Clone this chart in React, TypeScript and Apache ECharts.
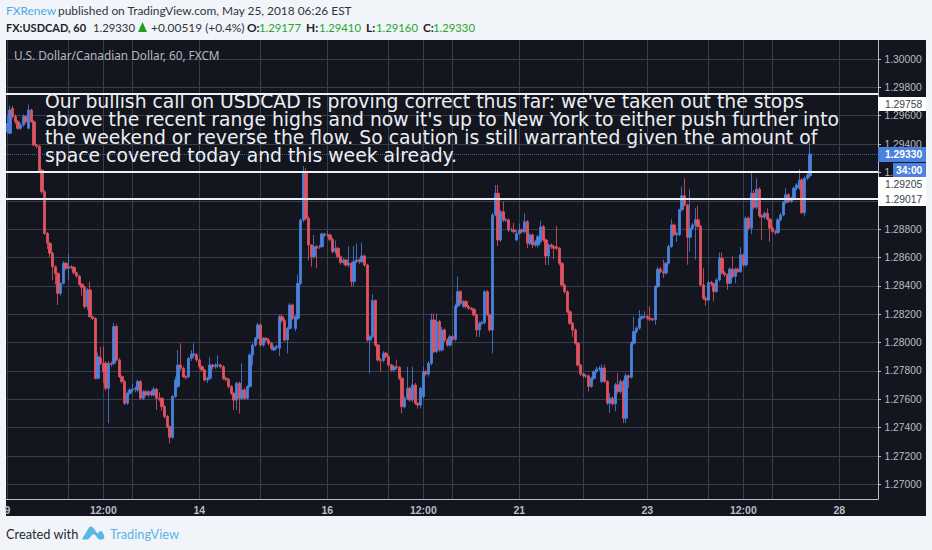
import React, { useEffect, useRef } from "react";
import * as echarts from "echarts";

// Each row: open, close, low, high (in 1e-5 of a price unit)
const legMay9 = [
[129488,129546,129470,129600],[129476,129640,129470,129670],[129652,129594,129580,129670],[129594,129558,129540,129610],
[129558,129511,129500,129570],[129511,129535,129500,129550],[129535,129594,129520,129610],[129594,129558,129545,129605],
[129511,129640,129505,129680],[129640,129558,129550,129650],[129558,129394,129385,129570],[129394,129385,129370,129400],
[129385,129206,129195,129395],[129217,129064,129050,129225],[129064,128770,128760,129075],[128770,128700,128660,128780],
[128700,128630,128600,128710],[128630,128535,128440,128640],[128535,128488,128410,128545],[128488,128348,128265,128495],
[128348,128418,128330,128425],[128418,128559,128410,128575],[128559,128524,128510,128570],[128524,128535,128440,128625],
[128535,128530,128515,128545],[128530,128493,128480,128540],[128493,128470,128455,128500],[128470,128411,128400,128480],
[128411,128390,128330,128420],[128390,128253,128240,128400],[128253,128371,128230,128385],[128371,128183,128175,128430],
[128183,128170,128160,128190],[128170,127748,127740,128180],[127748,127901,127740,127930],[127889,127854,127840,127970],
[127854,127795,127713,127970],[127854,127678,127660,127870],[127678,127854,127431,127870],[127854,127848,127830,127865],
[127854,128113,127840,128141],[128113,127878,127870,128130],[127878,127760,127750,127890],[127760,127725,127710,127770],
[127725,127572,127560,127735],[127572,127643,127560,127655],[127643,127666,127630,127680],[127666,127672,127650,127710],
[127672,127676,127650,127690],[127666,127725,127650,127740],[127725,127607,127595,127735],[127607,127654,127595,127665],
[127654,127631,127620,127665],[127631,127654,127615,127665],[127654,127631,127620,127665],[127631,127671,127620,127690],
[127671,127607,127525,127680],[127607,127600,127585,127650],[127607,127548,127520,127615],[127548,127478,127465,127560],
[127478,127407,127395,127490],[127407,127332,127290,127415],[127332,127619,127320,127630],[127619,127736,127610,127760],
[127690,127842,127680,127948],[127842,127819,127805,127995],[127819,127760,127750,127830],[127760,127755,127740,127770],
[127760,127889,127750,127900],[127889,127920,127870,127948],[127913,127920,127890,127995],[127913,127878,127865,127925],
[127878,127830,127815,127890],[127830,127807,127795,127840],[127807,127736,127725,127815],[127736,127748,127715,127760],
[127748,127842,127735,127900],[127842,127830,127810,127850],[127830,127842,127815,127855],[127842,127842,127820,127910],
[127842,127830,127815,127850],[127830,127748,127735,127840],[127748,127741,127725,127760],[127741,127690,127675,127750],
[127690,127642,127630,127700],[127642,127595,127525,127650],[127595,127713,127525,127725],[127713,127607,127500,127725],
[127607,127666,127595,127854],[127666,127607,127595,127680],[127607,127690,127595,127700],[127690,127913,127680,127925],
[127913,127983,127840,127995],[127983,128030,127970,128040],[128030,128124,128020,128140],[128124,127983,127970,128135],
[127983,128030,127970,128040],[128030,128018,128005,128040],[128018,127995,127980,128030],[127995,127960,127945,128005],
[127948,127967,127940,127980],[127967,127972,127950,127985],[127960,128183,127905,128195],[128183,128155,128140,128200],
[128155,128018,128005,128170],[128018,128100,127925,128110],[128100,128265,128090,128280],[128265,128171,128160,128275],
[128100,128183,128080,128195],[128171,128418,128160,128480],[128418,128864,128405,128875],
];
const legMay14 = [
[128864,129194,128850,129245],[129194,128876,128860,129230],[128876,128688,128580,128890],[128688,128606,128535,128695],
[128606,128676,128590,128759],[128676,128665,128525,128690],[128676,128676,128660,128690],[128676,128766,128665,128775],
[128766,128759,128745,128775],[128759,128759,128745,128790],[128759,128728,128715,128770],[128728,128641,128630,128740],
[128641,128665,128625,128720],[128665,128606,128595,128675],[128606,128564,128550,128615],[128564,128583,128550,128595],
[128583,128547,128535,128590],[128547,128559,128530,128680],[128559,128430,128395,128570],[128430,128571,128395,128680],
[128571,128583,128560,128700],[128583,128571,128555,128595],[128571,128611,128560,128705],[128611,128547,128535,128620],
[128547,128018,128005,128555],[128018,128042,127784,128055],[128042,128296,128030,128340],[128296,127983,127970,128305],
[127983,127878,127865,127990],[127878,127873,127795,127890],[127873,127925,127860,127940],[127925,127901,127890,127935],
[127901,127842,127830,127910],[127842,127807,127795,127850],[127807,127830,127795,127845],[127830,127826,127810,127880],
[127826,127748,127735,127835],[127748,127548,127501,127760],[127548,127607,127535,127620],[127607,127678,127595,127830],
[127678,127595,127585,127690],[127595,127701,127580,127830],[127701,127572,127560,127715],[127572,127560,127535,127580],
[127560,127678,127535,127690],[127619,127795,127605,127830],[127795,127779,127765,127805],[127779,127854,127760,127870],
[127854,128160,127840,128205],[128160,127936,127925,128205],[127936,128148,127925,128205],[128148,127948,127935,128160],
[127948,128089,127935,128110],[128089,128018,128005,128100],[128018,127983,127970,128030],[127983,128042,127970,128055],
[128042,128023,128010,128055],[128023,128258,128010,128275],[128258,128359,128245,128465],[128359,128277,128265,128370],
[128254,128289,128245,128300],[128289,128254,128240,128300],[128254,128242,128230,128265],[128242,128235,128225,128250],
[128235,128195,128185,128245],[128195,128089,128040,128205],[128089,128136,128040,128150],[128136,128141,128120,128155],
[128141,128359,128130,128370],[128359,128195,128185,128370],[128195,128089,128075,128205],[128089,128900,127925,128915],
[128900,129053,128890,129111],[129053,128724,128680,129111],[128724,128923,128710,128935],[128923,128864,128850,128994],
[128864,128864,128850,128880],[128864,128794,128780,128875],[128794,128794,128780,128810],[128794,128782,128770,128845],
[128724,128770,128715,128790],[128770,128794,128760,128840],[128794,128782,128770,128805],[128782,128853,128770,128911],
[128853,128700,128665,128865],[128700,128759,128685,128770],[128759,128688,128665,128770],[128688,128712,128675,128725],
[128688,128747,128670,128760],[128712,128817,128700,128860],[128817,128724,128710,128830],[128724,128611,128547,128735],
[128611,128688,128547,128700],[128688,128676,128660,128700],[128676,128665,128590,128690],[128676,128665,128650,128822],
[128665,128559,128545,128675],[128559,128406,128395,128570],[128406,128359,128345,128415],[128359,128218,128205,128370],
[128218,128136,128125,128230],[128136,128089,128040,128145],[128089,127995,127985,128100],[127995,127842,127830,128005],
[127842,127779,127765,127850],[127779,127765,127750,127790],[127765,127765,127750,127780],
];
const legMay22 = [
[127765,127690,127655,127775],[127690,127749,127680,127760],[127749,127796,127735,127805],[127796,127813,127785,127830],
[127813,127820,127800,127835],[127726,127820,127715,127845],[127820,127726,127715,127845],[127726,127573,127560,127735],
[127573,127608,127502,127645],[127608,127568,127555,127620],[127568,127702,127515,127715],[127702,127655,127640,127785],
[127655,127726,127640,127740],[127726,127467,127432,127740],[127467,127766,127432,127785],[127766,127756,127680,127775],
[127756,127996,127745,128010],[127996,128078,127985,128184],[128078,128102,128065,128115],[128102,128172,128090,128230],
[128172,128184,128160,128195],[128184,128184,128170,128220],[128184,128172,128160,128195],[128172,128165,128150,128255],
[128165,128160,128150,128175],[128160,128395,128125,128405],[128395,128518,128385,128535],[128518,128501,128490,128535],
[128501,128490,128455,128585],[128490,128560,128480,128570],[128560,128678,128550,128690],[128678,128830,128665,128870],
[128830,128760,128750,128840],[128760,128772,128710,128785],[128760,128936,128750,128945],[128936,129035,128925,129100],
[129035,128971,128960,129159],[128971,128743,128549,128980],[128743,128807,128642,129082],[128807,128830,128795,128845],
[128830,128866,128585,128948],[128866,128819,128805,128965],[128819,128407,128395,128830],[128407,128313,128300,128525],
[128313,128301,128259,128325],[128301,128423,128290,128435],[128423,128414,128400,128435],[128414,128360,128290,128425],
[128360,128442,128350,128455],[128442,128595,128430,128635],[128595,128490,128480,128635],[128490,128478,128465,128505],
[128478,128419,128372,128490],[128419,128518,128410,128530],[128518,128466,128455,128607],[128466,128518,128419,128530],
[128518,128501,128490,128530],[128501,128619,128490,128673],[128619,128548,128535,128630],[128548,128877,128535,128890],
[128877,128807,128795,128890],[128807,129053,128765,129206],[129053,128955,128940,129075],[128955,129082,128940,129159],
[129082,128894,128880,129095],[128894,128885,128725,128905],[128885,128912,128870,128925],[128912,128870,128860,128947],
[128870,128807,128712,128880],[128807,128783,128770,128820],[128783,128776,128760,128795],[128776,128866,128765,128880],
[128866,128900,128855,128915],[128900,128988,128890,129000],[128988,129042,128975,129088],[129042,128995,128985,129055],
[128995,129018,128985,129030],[129018,129089,129005,129100],[129089,129112,129075,129125],[129089,129147,129075,129223],
[129147,128917,128905,129160],[128917,129159,128890,129170],[129159,129182,129145,129195],[129177,129330,129160,129410],
];

const candleRows = [...legMay9, ...legMay14, ...legMay22];
const slotCount = 327;

const timeTickSlots = [0, 23, 36, 47, 72, 95, 120, 143, 156, 167, 192, 216, 240, 263, 276, 287, 312];
const timeLabelSlots = [0, 36, 72, 120, 156, 192, 240, 276, 312];
const timeLabels = ["9", "12:00", "14", "16", "12:00", "21", "23", "12:00", "28"];

const priceTicks = [1.27, 1.272, 1.274, 1.276, 1.278, 1.28, 1.282, 1.284, 1.286, 1.288, 1.29, 1.292, 1.294, 1.296, 1.298, 1.3];
const priceMin = 1.26897;
const priceMax = 1.30134;
const levelLines = [1.29758, 1.29205, 1.29017];
const lastPrice = 1.2933;

const noteLines = [
  "Our bullish call on USDCAD is proving correct thus far: we've taken out the stops",
  "above the recent range highs and now it's up to New York to either push further into",
  "the weekend or reverse the flow. So caution is still warranted given the amount of",
  "space covered today and this week already.",
];

const UP = "#4a82dd";
const DOWN = "#e25362";
const PANEL = "#14161f";
const GRID = "#3a3e48";
const AXIS = "#b9bdc6";
const SANS = "Lato, sans-serif";
const MONO = "'Liberation Sans', Arial, sans-serif";

const logoPath =
  "M0 13 L7 1.5 C8 0 10 0 11 1.5 L15.5 7.5 L17 6 C18 4.5 19.5 4.5 20.5 6 L22 9.5 C23 12 21.5 13.5 19.5 13.5 L17 13.5 L13 9 C12 8 11 8 10 9 L7 12.5 C6.5 13.2 5.5 13.5 4.5 13.5 L1 13.5 Z";

export default function App() {
  const ref = useRef<HTMLDivElement>(null);
  useEffect(() => {
    echarts.graphic.registerShape("tvlogo2", echarts.graphic.extendPath(logoPath as any, {} as any) as any);
    const chart = echarts.init(ref.current!, undefined, { renderer: "svg" });
    const categories = Array.from({ length: slotCount }, (_, i) => {
      const k = timeLabelSlots.indexOf(i);
      return k >= 0 ? timeLabels[k] : "";
    });
    const data = candleRows.map((r) => r.map((v) => v / 100000));
    const topText = (x: number, y: number, text: string, fill: string, weight = "normal", size = 11.9) => ({
      type: "text", x, y, z: 100,
      style: { text, fill, font: `${weight} ${size}px ${SANS}`, textVerticalAlign: "middle" },
    });
    const boxText = (x: number, y: number, text: string, fill: string, weight = "normal") => ({
      type: "text", x, y, z: 102,
      style: { text, fill, font: `${weight} 10.3px ${MONO}`, textVerticalAlign: "middle" },
    });
    const box = (x: number, y: number, width: number, height: number, fill: string) => ({
      type: "rect", z: 101, shape: { x, y, width, height }, style: { fill },
    });
    chart.setOption({
      animation: false,
      backgroundColor: "#f1f5fa",
      grid: { left: 6, top: 40, width: 872, height: 459, containLabel: false },
      xAxis: {
        type: "category",
        data: categories,
        axisLine: { onZero: false, lineStyle: { color: AXIS, width: 1 } },
        axisTick: { alignWithLabel: true, length: 3, lineStyle: { color: AXIS }, interval: (i: number) => timeLabelSlots.includes(i) },
        axisLabel: { interval: (i: number) => timeLabelSlots.includes(i), color: AXIS, fontSize: 10.5, fontWeight: "bold", fontFamily: MONO, margin: 5, showMinLabel: true, hideOverlap: false },
        splitLine: { show: true, alignWithLabel: true, interval: (i: number) => timeTickSlots.includes(i), lineStyle: { color: GRID, width: 1 } },
      },
      yAxis: {
        type: "value",
        position: "right",
        min: priceMin,
        max: priceMax,
        scale: true,
        axisLine: { show: true, lineStyle: { color: AXIS, width: 1 } },
        axisTick: { show: true, length: 3, lineStyle: { color: AXIS }, customValues: priceTicks },
        axisLabel: { color: AXIS, fontSize: 10.3, fontFamily: MONO, margin: 6.5, customValues: priceTicks, showMinLabel: true, showMaxLabel: true, formatter: (v: number) => v.toFixed(5) },
        splitLine: { show: true, lineStyle: { color: GRID, width: 1 } },
      },
      series: [
        {
          type: "candlestick",
          data,
          barWidth: 2.8,
          itemStyle: { color: UP, color0: DOWN, borderColor: UP, borderColor0: DOWN, borderWidth: 0.8 },
          markLine: {
            silent: true,
            symbol: "none",
            precision: 5,
            label: { show: false },
            data: [
              ...levelLines.map((v) => ({ yAxis: v, lineStyle: { color: "#eef0f4", width: 2, type: "solid" as const } })),
              { yAxis: lastPrice, lineStyle: { color: "#4a5f9e", width: 1, type: "dotted" as const } },
            ],
          },
        },
      ],
      graphic: {
        elements: [
          { type: "rect", z: -10, shape: { x: 6, y: 40, width: 920, height: 476 }, style: { fill: PANEL } },
          topText(6, 10, "FXRenew", "#4aa8e8"),
          topText(58, 10, "published on TradingView.com, May 25, 2018 06:26 EST", "#30343c"),
          topText(6, 27, "FX:USDCAD, 60", "#1f2228", "bold", 11),
          topText(93, 27, "1.29330", "#30343c", "normal", 11.3),
          { type: "polygon", z: 100, shape: { points: [[138, 32], [142.5, 22], [147, 32]] }, style: { fill: "#1ea21e" } },
          topText(151, 27, "+0.00519 (+0.4%)", "#30343c"),
          topText(247, 27, "O:", "#1f2228", "bold"),
          topText(259, 27, "1.29177", "#2aa52a", "normal", 11.3),
          topText(306, 27, "H:", "#1f2228", "bold"),
          topText(319, 27, "1.29410", "#2aa52a", "normal", 11.3),
          topText(366, 27, "L:", "#1f2228", "bold"),
          topText(376, 27, "1.29160", "#2aa52a", "normal", 11.3),
          topText(423, 27, "C:", "#1f2228", "bold"),
          topText(433, 27, "1.29330", "#2aa52a", "normal", 11.3),
          { type: "text", x: 14, y: 55, z: 100, style: { text: "U.S. Dollar/Canadian Dollar, 60, FXCM", fill: "#b4b8c0", font: "11.8px 'Noto Sans'", textVerticalAlign: "middle" } },
          {
            type: "text", x: 45, y: 128, z: 100,
            style: { text: noteLines.join("\n"), fill: "#eceef2", font: "18.8px 'DejaVu Sans'", lineHeight: 18, textVerticalAlign: "middle" },
          },
          box(878, 97, 48, 14, "#ffffff"),
          boxText(885, 104, "1.29758", "#3a3e48"),
          box(878, 147, 48, 15, UP),
          boxText(885, 154.5, "1.29330", "#ffffff", "bold"),
          box(893, 163, 33, 14, UP),
          boxText(896, 170, "34:00", "#ffffff", "bold"),
          box(878, 177, 48, 29, "#ffffff"),
          boxText(885, 184, "1.29205", "#3a3e48"),
          boxText(885, 199, "1.29017", "#3a3e48"),
          topText(6, 534, "Created with", "#26292f", "normal", 12.8),
          { type: "tvlogo2", x: 82, y: 526, z: 100, style: { fill: "#5cb6e4" } },
          topText(110, 534, "TradingView", "#5cb2e6", "normal", 12.8),
        ],
      },
    } as any);
    return () => chart.dispose();
  }, []);
  return <div ref={ref} style={{ position: "fixed", left: 0, top: 0, width: 932, height: 550 }} />;
}
